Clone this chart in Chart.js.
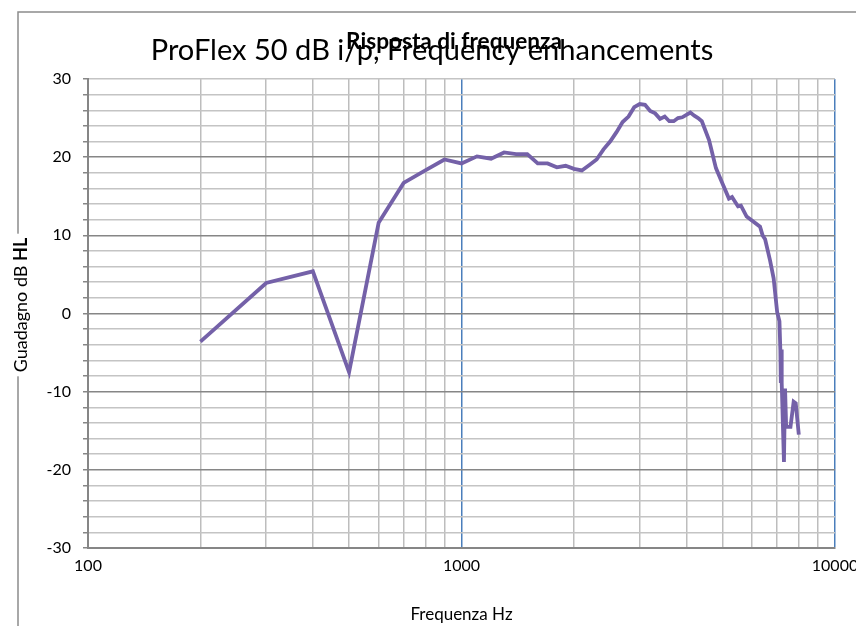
<!DOCTYPE html>
<html>
<head>
<meta charset="utf-8">
<script src="https://cdn.jsdelivr.net/npm/chart.js@4.4.1/dist/chart.umd.min.js"></script>
<style>
  body { margin: 0; background: #fff; }
  #chart { display: block; }
</style>
</head>
<body>
<canvas id="chart" width="856" height="626"></canvas>
<script>
// frequency response
var freqHz = [200, 300, 400, 500, 600, 700, 800, 900, 1000, 1100, 1200, 1300, 1400, 1500,
    1600, 1700, 1800, 1900, 2000, 2100, 2200, 2300, 2400, 2500, 2600, 2700, 2800, 2900,
    3000, 3100, 3200, 3300, 3400, 3500, 3600, 3700, 3800, 3900, 4000, 4100, 4200, 4300,
    4400, 4600, 4800, 5000, 5200, 5300, 5500, 5600, 5800, 6300, 6400, 6500, 6700, 6850,
    7000, 7100, 7140, 7160, 7180, 7200, 7300, 7350, 7400, 7600, 7750, 7850, 8000];
var gainDb = [-3.6, 3.9, 5.4, -7.5, 11.6, 16.7, 18.3, 19.7, 19.2, 20.1, 19.8, 20.6, 20.4, 20.4,
    19.2, 19.2, 18.7, 18.9, 18.5, 18.3, 19.0, 19.7, 21.0, 22.0, 23.2, 24.5, 25.2, 26.4,
    26.8, 26.7, 25.9, 25.6, 24.9, 25.2, 24.6, 24.6, 25.0, 25.1, 25.4, 25.7, 25.3, 25.0,
    24.6, 22.2, 18.6, 16.6, 14.7, 14.9, 13.7, 13.8, 12.4, 11.1, 10.0, 9.5, 6.8, 4.5,
    0.2, -1.0, -4.7, -8.9, -4.6, -8.9, -19.0, -9.6, -14.5, -14.5, -11.3, -11.5, -15.5];

var xGridHz = [100, 200, 300, 400, 500, 600, 700, 800, 900, 1000,
    2000, 3000, 4000, 5000, 6000, 7000, 8000, 9000, 10000];
var xLabelHz = [100, 1000, 10000];

var chartTitle = 'ProFlex 50 dB i/p, Frequency enhancements';
var chartSubtitle = 'Risposta di frequenza';
var xTitle = 'Frequenza Hz';
var yTitle = 'Guadagno dB ';
var yTitleBold = 'HL';

var FONT = 'Lato, "Noto Sans", sans-serif';

function fitSize(ctx, text, weight, width) {
    ctx.font = weight + ' 20px ' + FONT;
    return 20 * width / ctx.measureText(text).width;
}

var frameAndTitles = {
    id: 'frameAndTitles',
    beforeDraw: function (chart) {
        var ctx = chart.ctx;
        ctx.save();
        ctx.fillStyle = '#fff';
        ctx.fillRect(0, 0, chart.width, chart.height);
        ctx.strokeStyle = '#8c8c8c';
        ctx.lineWidth = 1.5;
        ctx.strokeRect(18, 12, chart.width + 40, chart.height + 40);
        ctx.restore();
    },
    afterDraw: function (chart) {
        var ctx = chart.ctx;
        var area = chart.chartArea;
        ctx.save();
        ctx.fillStyle = '#000';
        ctx.textAlign = 'center';
        ctx.textBaseline = 'alphabetic';

        var s = fitSize(ctx, chartTitle, 'normal', 563);
        ctx.font = 'normal ' + s + 'px ' + FONT;
        ctx.fillText(chartTitle, 432, 60);

        s = fitSize(ctx, chartSubtitle, 'bold', 216);
        ctx.font = 'bold ' + s + 'px ' + FONT;
        ctx.fillText(chartSubtitle, 454, 49);

        ctx.font = 'normal 17px ' + FONT;
        ctx.fillText(xTitle, (area.left + area.right) / 2, 620);

        // y title: normal part + bold HL, rotated
        ctx.translate(21, 305);
        ctx.rotate(-Math.PI / 2);
        var ys = 18;
        ctx.font = 'normal ' + ys + 'px ' + FONT;
        var w1 = ctx.measureText(yTitle).width;
        ctx.font = 'bold ' + ys + 'px ' + FONT;
        var w2 = ctx.measureText(yTitleBold).width;
        var total = w1 + w2;
        ctx.fillStyle = '#fff';
        ctx.fillRect(-total / 2 - 4, -10, total + 8, 20);
        ctx.fillStyle = '#000';
        ctx.textAlign = 'left';
        ctx.textBaseline = 'middle';
        ctx.font = 'normal ' + ys + 'px ' + FONT;
        ctx.fillText(yTitle, -total / 2, 0);
        ctx.font = 'bold ' + ys + 'px ' + FONT;
        ctx.fillText(yTitleBold, -total / 2 + w1, 0);
        ctx.restore();
    }
};

new Chart(document.getElementById('chart'), {
    type: 'line',
    data: {
        datasets: [{
            data: freqHz.map(function (f, i) { return { x: f, y: gainDb[i] }; }),
            borderColor: '#7461a8',
            borderWidth: 3.8,
            pointRadius: 0,
            tension: 0,
            fill: false
        }]
    },
    options: {
        responsive: false,
        animation: false,
        layout: { padding: { left: 0, top: 79, right: 21, bottom: 0 } },
        plugins: {
            legend: { display: false },
            tooltip: { enabled: false },
            title: { display: false }
        },
        scales: {
            x: {
                type: 'logarithmic',
                min: 100,
                max: 10000,
                afterBuildTicks: function (scale) {
                    scale.ticks = xGridHz.map(function (v) { return { value: v }; });
                },
                afterFit: function (scale) {
                    scale.height = 78;
                    scale.paddingLeft = 0;
                    scale.paddingRight = 0;
                },
                ticks: {
                    autoSkip: false,
                    maxRotation: 0,
                    padding: 8,
                    color: '#000',
                    font: { family: FONT, size: 16 },
                    callback: function (v) { return xLabelHz.indexOf(v) >= 0 ? String(v) : ''; }
                },
                grid: {
                    drawTicks: false,
                    lineWidth: 1.5,
                    color: function (c) {
                        var v = c.tick ? c.tick.value : 0;
                        if (v === 1000 || v === 10000) return '#4a7ebb';
                        return '#bdbdbd';
                    }
                },
                border: { color: '#868686', width: 2 }
            },
            y: {
                type: 'linear',
                min: -30,
                max: 30,
                afterFit: function (scale) {
                    scale.width = 88;
                    scale.paddingTop = 0;
                    scale.paddingBottom = 0;
                },
                ticks: {
                    stepSize: 2,
                    autoSkip: false,
                    padding: 12,
                    color: '#000',
                    font: { family: FONT, size: 16 },
                    callback: function (v) { return v % 10 === 0 ? String(v) : ''; }
                },
                grid: {
                    lineWidth: 1.5,
                    tickLength: 5,
                    tickColor: '#868686',
                    color: function (c) {
                        var v = c.tick ? c.tick.value : 0;
                        if (v % 10 === 0 && v !== 30) return '#868686';
                        return '#c4c4c4';
                    }
                },
                border: { color: '#868686', width: 2 }
            }
        }
    },
    plugins: [frameAndTitles]
});
</script>
</body>
</html>
